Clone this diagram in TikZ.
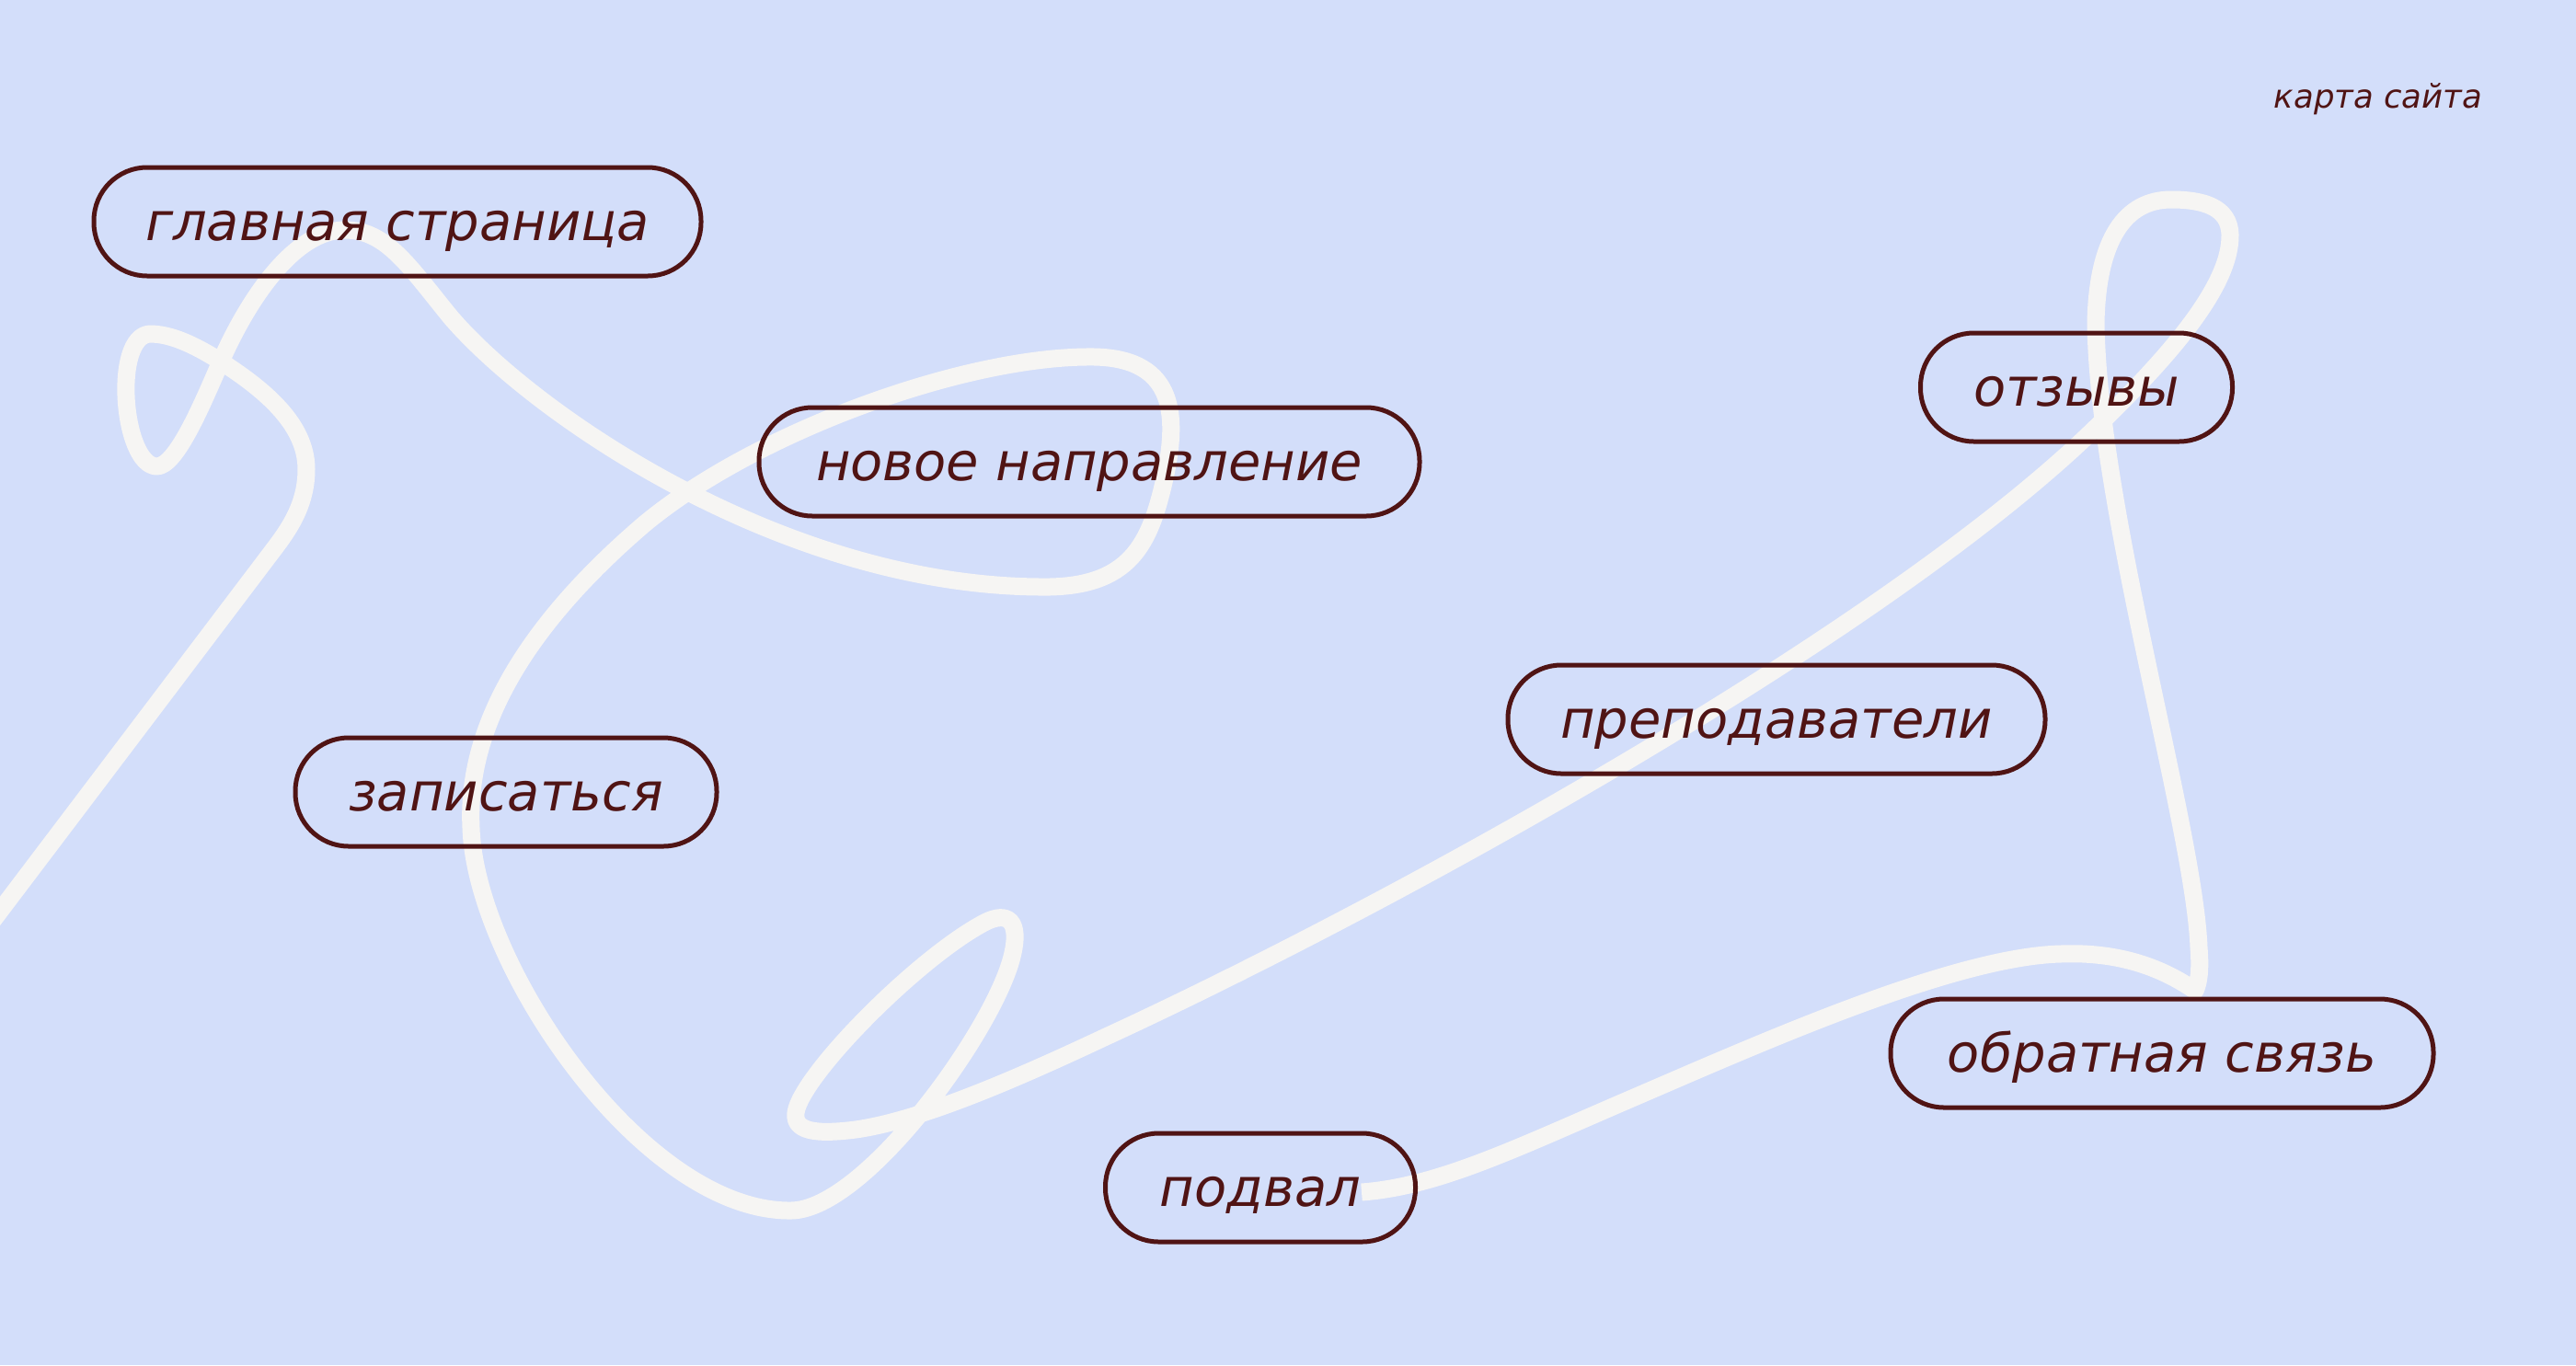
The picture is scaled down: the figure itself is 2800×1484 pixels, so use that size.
\documentclass[tikz,border=0pt]{standalone}
\usepackage{fontspec}
\setmainfont{DejaVu Sans}
\definecolor{bg}{HTML}{D3DEFA}
\definecolor{wline}{HTML}{F6F5F3}
\definecolor{maroon}{HTML}{501414}
\tikzset{
  pill/.style={draw=maroon, line width=5pt, rounded corners=58pt, minimum height=118pt,
    text=maroon, font=\fontsize{57.5}{64}\selectfont\itshape, text height=42pt, text depth=2pt,
    inner sep=0pt},
  wire/.style={draw=wline, line width=19pt, line join=round, line cap=butt}
}
\begin{document}
\begin{tikzpicture}[x=1pt,y=-1pt]
\fill[bg] (0,0) rectangle (2800,1484);
\useasboundingbox (0,0) rectangle (2800,1484);
\begin{scope}
\clip (0,0) rectangle (2800,1484);
\coordinate (wend) at (1480,1296);
\draw[wire] (-30,1030) -- (300,594)
  .. controls (318,570) and (333,545) .. (333,510)
  .. controls (333,460) and (285,422) .. (240,393)
  .. controls (210,374) and (185,363) .. (163,363)
  .. controls (122,365) and (133,505) .. (170,507)
  .. controls (192,508) and (222,434) .. (240,393)
  .. controls (270,325) and (320,250) .. (375,250)
  .. controls (420,250) and (445,290) .. (490,345)
  .. controls (580,450) and (850,636) .. (1130,638)
  .. controls (1230,640) and (1250,590) .. (1266,520)
  .. controls (1280,455) and (1280,390) .. (1190,388)
  .. controls (1050,386) and (820,470) .. (700,570)
  .. controls (560,690) and (507,800) .. (512,900)
  .. controls (517,1050) and (700,1318) .. (860,1316)
  .. controls (940,1315) and (1080,1120) .. (1100,1040)
  .. controls (1110,1000) and (1095,990) .. (1070,1003)
  .. controls (1000,1040) and (880,1160) .. (866,1205)
  .. controls (858,1232) and (890,1233) .. (930,1228)
  .. controls (1000,1218) and (1100,1175) .. (1200,1128)
  .. controls (1500,990) and (2050,690) .. (2283,460)
  .. controls (2360,385) and (2425,310) .. (2424,255)
  .. controls (2423,225) and (2395,217) .. (2360,217)
  .. controls (2310,217) and (2280,260) .. (2278,350)
  .. controls (2280,550) and (2385,900) .. (2390,1030)
  .. controls (2392,1055) and (2390,1068) .. (2386,1077)
  .. controls (2340,1045) and (2290,1035) .. (2240,1037)
  .. controls (2120,1040) and (1900,1140) .. (1760,1200)
  .. controls (1640,1252) and (1560,1290) .. (wend);
\end{scope}
\node[pill, minimum width=660pt] (glav) at (432,241) {главная страница};
\node[pill, minimum width=718pt] (novoe) at (1184,502) {новое направление};
\node[pill, minimum width=339pt] (otz) at (2257,421) {отзывы};
\node[pill, minimum width=584pt] (prep) at (1931,782) {преподаватели};
\node[pill, minimum width=458pt] (zap) at (550,861) {записаться};
\node[pill, minimum width=590pt] (obr) at (2350,1145) {обратная связь};
\node[pill, minimum width=337pt] (podv) at (1370,1291) {подвал};
\node[text=maroon, font=\fontsize{35.5}{40}\selectfont\itshape, inner sep=0pt, anchor=base] (karta) at (2585,117) {карта сайта};
\end{tikzpicture}
\end{document}
